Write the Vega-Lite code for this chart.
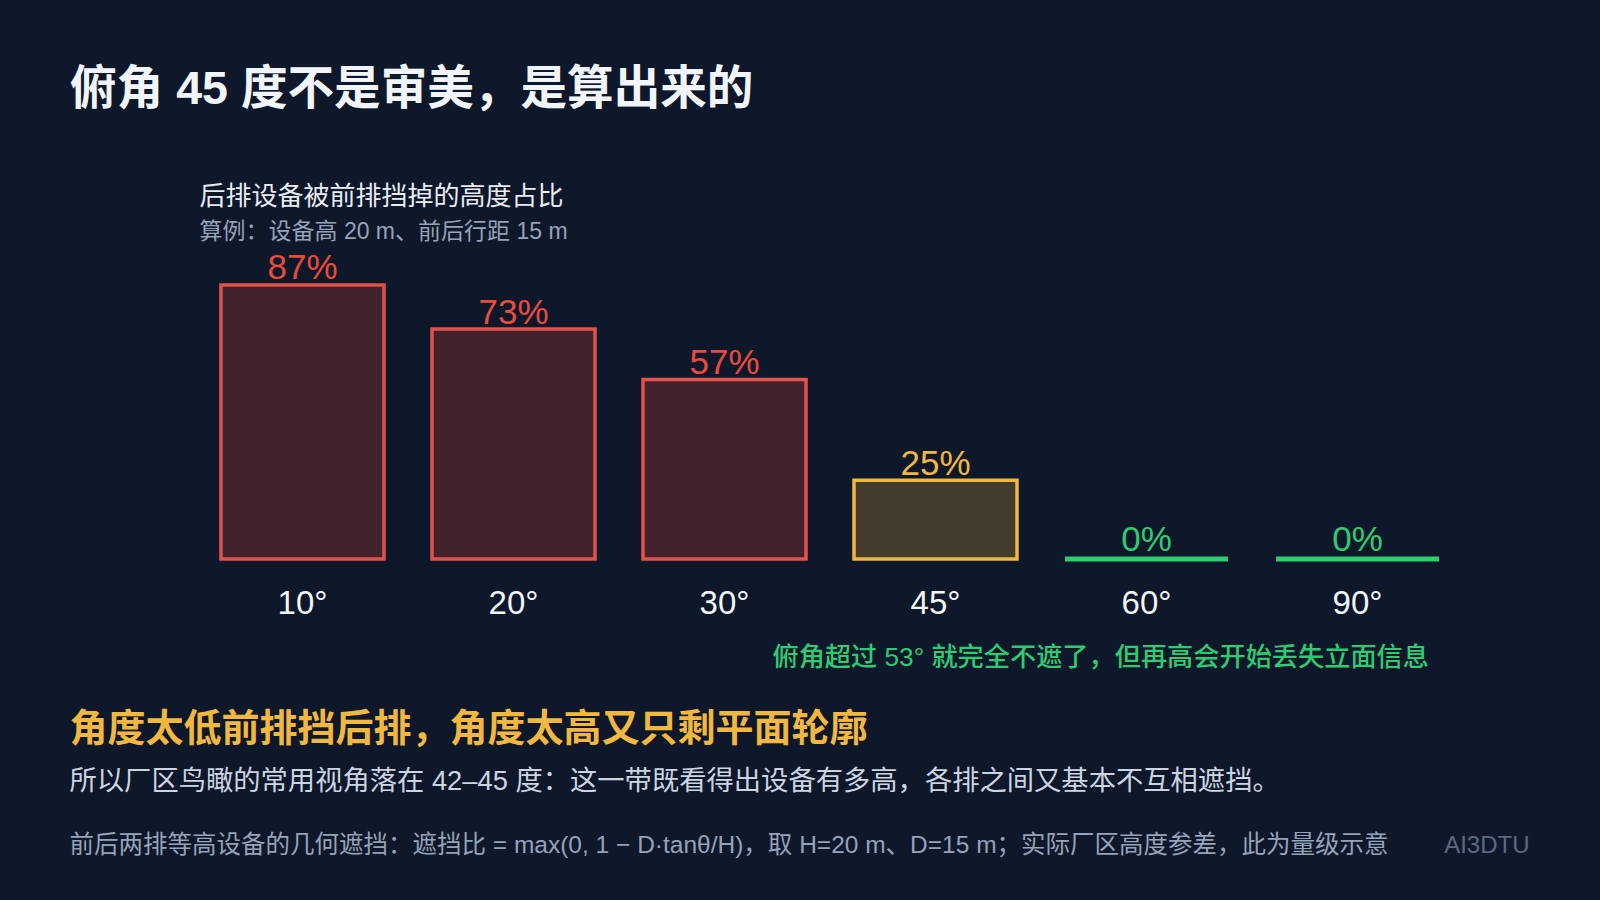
{
  "$schema": "https://vega.github.io/schema/vega-lite/v5.json",
  "background": "#0f172a",
  "width": 1266,
  "height": 315,
  "autosize": "none",
  "padding": {"left": 197, "top": 244, "right": 137, "bottom": 341},
  "title": {
    "text": "俯角 45 度不是审美，是算出来的",
    "anchor": "start",
    "frame": "group",
    "dx": -127,
    "offset": 70,
    "fontSize": 46.6,
    "fontWeight": 700,
    "color": "#f1f5f9"
  },
  "datasets": {
    "bars": [
      {"angle": "10°", "share": 87, "label": "87%", "level": "high"},
      {"angle": "20°", "share": 73, "label": "73%", "level": "high"},
      {"angle": "30°", "share": 57, "label": "57%", "level": "high"},
      {"angle": "45°", "share": 25, "label": "25%", "level": "mid"},
      {"angle": "60°", "share": 0, "label": "0%", "level": "none"},
      {"angle": "90°", "share": 0, "label": "0%", "level": "none"}
    ]
  },
  "data": {"name": "bars"},
  "encoding": {
    "x": {
      "field": "angle",
      "type": "nominal",
      "sort": null,
      "title": null,
      "scale": {
        "domain": ["10°", "20°", "30°", "45°", "60°", "90°"],
        "paddingInner": 0.2275,
        "paddingOuter": 0.1137
      },
      "axis": {
        "domain": false,
        "ticks": false,
        "labelAngle": 0,
        "labelFontSize": 33,
        "labelColor": "#f1f5f9",
        "labelPadding": 28,
        "labelFontWeight": 500
      }
    },
    "y": {
      "field": "share",
      "type": "quantitative",
      "scale": {"domain": [0, 100], "nice": false},
      "axis": null
    },
    "color": {
      "field": "level",
      "type": "nominal",
      "legend": null,
      "scale": {
        "domain": ["high", "mid", "none"],
        "range": ["#e74c3c", "#f0b840", "#2ecc71"]
      }
    }
  },
  "layer": [
    {
      "transform": [{"filter": "datum.share > 0"}],
      "mark": {"type": "bar", "fillOpacity": 0.24, "strokeWidth": 3.5},
      "encoding": {
        "stroke": {"field": "level", "type": "nominal", "legend": null, "scale": {"domain": ["high", "mid", "none"], "range": ["#e2524a", "#f0b840", "#2ecc71"]}}
      }
    },
    {
      "transform": [{"filter": "datum.share == 0"}],
      "mark": {"type": "bar", "strokeWidth": 5},
      "encoding": {
        "stroke": {"field": "level", "type": "nominal", "legend": null, "scale": {"domain": ["high", "mid", "none"], "range": ["#e2524a", "#f0b840", "#2ecc71"]}}
      }
    },
    {
      "transform": [{"filter": "datum.share > 0"}],
      "mark": {"type": "text", "baseline": "alphabetic", "dy": -5.5, "fontSize": 35, "fontWeight": 500},
      "encoding": {"text": {"field": "label", "type": "nominal"}}
    },
    {
      "transform": [{"filter": "datum.share == 0"}],
      "mark": {"type": "text", "baseline": "alphabetic", "dy": -8, "fontSize": 35, "fontWeight": 500},
      "encoding": {"text": {"field": "label", "type": "nominal"}}
    },
    {
      "transform": [{"filter": "datum.angle == '10°'"}],
      "mark": {"type": "text", "text": "后排设备被前排挡掉的高度占比", "align": "left", "dx": -103, "fontSize": 26},
      "encoding": {"x": {"datum": "10°", "type": "nominal"}, "y": {"datum": 115, "type": "quantitative"}, "color": {"value": "#e8edf4"}}
    },
    {
      "transform": [{"filter": "datum.angle == '10°'"}],
      "mark": {"type": "text", "text": "算例：设备高 20 m、前后行距 15 m", "align": "left", "dx": -103, "fontSize": 23},
      "encoding": {"x": {"datum": "10°", "type": "nominal"}, "y": {"datum": 103.8, "type": "quantitative"}, "color": {"value": "#94a3b8"}}
    },
    {
      "transform": [{"filter": "datum.angle == '10°'"}],
      "mark": {"type": "text", "text": "俯角超过 53° 就完全不遮了，但再高会开始丢失立面信息", "align": "left", "dx": 470, "fontSize": 26.2, "fontWeight": 500},
      "encoding": {"x": {"datum": "10°", "type": "nominal"}, "y": {"datum": -31.5, "type": "quantitative"}, "color": {"value": "#2ecc71"}}
    },
    {
      "transform": [{"filter": "datum.angle == '10°'"}],
      "mark": {"type": "text", "text": "角度太低前排挡后排，角度太高又只剩平面轮廓", "align": "left", "dx": -233, "fontSize": 38, "fontWeight": 700},
      "encoding": {"x": {"datum": "10°", "type": "nominal"}, "y": {"datum": -54.35, "type": "quantitative"}, "color": {"value": "#f0b840"}}
    },
    {
      "transform": [{"filter": "datum.angle == '10°'"}],
      "mark": {"type": "text", "text": "所以厂区鸟瞰的常用视角落在 42–45 度：这一带既看得出设备有多高，各排之间又基本不互相遮挡。", "align": "left", "dx": -233, "fontSize": 27.3},
      "encoding": {"x": {"datum": "10°", "type": "nominal"}, "y": {"datum": -70.9, "type": "quantitative"}, "color": {"value": "#cbd5e1"}}
    },
    {
      "transform": [{"filter": "datum.angle == '10°'"}],
      "mark": {"type": "text", "text": "前后两排等高设备的几何遮挡：遮挡比 = max(0, 1 − D·tanθ/H)，取 H=20 m、D=15 m；实际厂区高度参差，此为量级示意", "align": "left", "dx": -233, "fontSize": 24.5},
      "encoding": {"x": {"datum": "10°", "type": "nominal"}, "y": {"datum": -91, "type": "quantitative"}, "color": {"value": "#94a3b8"}}
    },
    {
      "transform": [{"filter": "datum.angle == '10°'"}],
      "mark": {"type": "text", "text": "AI3DTU", "align": "right", "dx": 1227, "fontSize": 24},
      "encoding": {"x": {"datum": "10°", "type": "nominal"}, "y": {"datum": -91, "type": "quantitative"}, "color": {"value": "#5b6a80"}}
    }
  ],
  "config": {
    "view": {"stroke": null},
    "font": "Liberation Sans, Noto Sans CJK SC"
  }
}
